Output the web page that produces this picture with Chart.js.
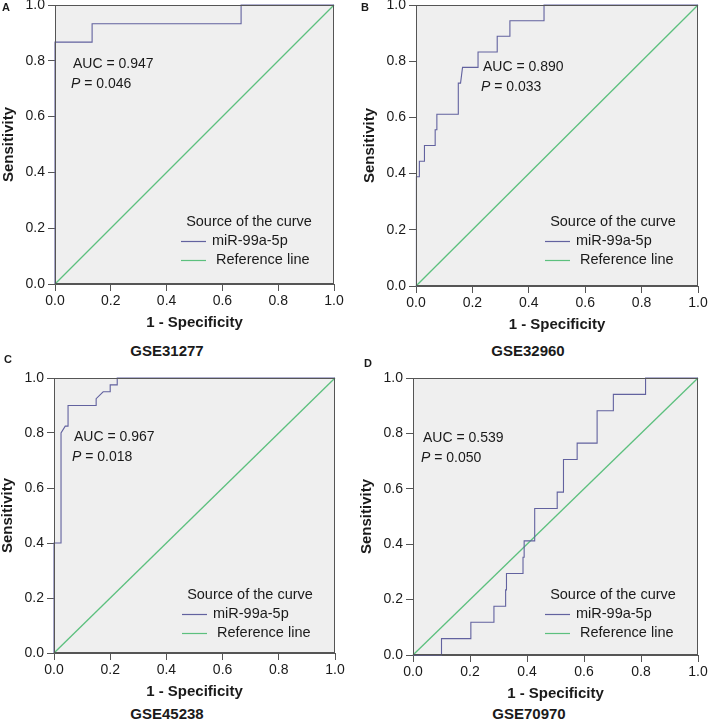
<!DOCTYPE html>
<html><head><meta charset="utf-8">
<script src="https://cdn.jsdelivr.net/npm/chart.js@4.4.0/dist/chart.umd.min.js"></script>
<style>
html,body{margin:0;padding:0;background:#fff;width:709px;height:725px;overflow:hidden;position:relative;font-family:'Liberation Sans',Arial,sans-serif}
canvas{position:absolute}
.lbl{position:absolute;font-weight:bold;color:#1a1a1a;white-space:nowrap;transform:translate(-50%,-50%);line-height:1}
</style></head><body>
<script>
// ---------- data ----------
const tickLabels = ['0.0','0.2','0.4','0.6','0.8','1.0'];
const seriesNames = ['miR-99a-5p','Reference line'];
const legendTitle = 'Source of the curve';
const xTitle = '1 - Specificity';
const yTitle = 'Sensitivity';
const panelLetters = ['A','B','C','D'];
const cohortNames = ['GSE31277','GSE32960','GSE45238','GSE70970'];
const aucValues = ['0.947','0.890','0.967','0.539'];
const pValues = ['0.046','0.033','0.018','0.050'];
const refFpr = [0, 1];
const refTpr = [0, 1];

const fprA = [0, 0, 0.133, 0.133, 0.667, 0.667, 1];
const tprA = [0, 0.867, 0.867, 0.933, 0.933, 1, 1];

const fprB = [0, 0, 0.003, 0.012, 0.012, 0.030, 0.030, 0.068, 0.068, 0.074, 0.074, 0.150, 0.150, 0.158, 0.165, 0.220, 0.220, 0.288, 0.288, 0.333, 0.333, 0.454, 0.454, 1];
const tprB = [0, 0.222, 0.389, 0.389, 0.444, 0.444, 0.500, 0.500, 0.556, 0.556, 0.611, 0.611, 0.722, 0.722, 0.778, 0.778, 0.833, 0.833, 0.889, 0.889, 0.944, 0.944, 1, 1];

const fprC = [0, 0, 0.025, 0.025, 0.040, 0.050, 0.050, 0.150, 0.150, 0.175, 0.200, 0.200, 0.225, 0.225, 1];
const tprC = [0, 0.400, 0.400, 0.800, 0.825, 0.825, 0.900, 0.900, 0.925, 0.950, 0.950, 0.975, 0.975, 1, 1];

const fprD = [0, 0.100, 0.100, 0.203, 0.203, 0.284, 0.284, 0.325, 0.325, 0.328, 0.328, 0.386, 0.386, 0.390, 0.390, 0.427, 0.427, 0.506, 0.506, 0.528, 0.528, 0.576, 0.576, 0.646, 0.646, 0.703, 0.703, 0.816, 0.816, 1];
const tprD = [0, 0, 0.059, 0.059, 0.118, 0.118, 0.176, 0.176, 0.235, 0.235, 0.294, 0.294, 0.353, 0.353, 0.412, 0.412, 0.529, 0.529, 0.588, 0.588, 0.706, 0.706, 0.765, 0.765, 0.882, 0.882, 0.941, 0.941, 1, 1];

const curveFpr = [fprA, fprB, fprC, fprD];
const curveTpr = [tprA, tprB, tprC, tprD];

// ---------- layout / style ----------
const FONT = "'Liberation Sans', Arial, sans-serif";
const TEXT = '#1a1a1a';
const AXIS = '#555555';
const CURVE = '#62629f';
const REFC = '#5cc07e';
const panels = [
  {L:55,  T:5,   R:334, B:284, letter:[6,7],    sub:[167,350], ax:18, ay:59},
  {L:416, T:5,   R:698, B:286, letter:[365,7],  sub:[528,350], ax:67, ay:62},
  {L:54,  T:378, R:335, B:653, letter:[8,359],  sub:[167,713], ax:20, ay:59},
  {L:413, T:378, R:698, B:655, letter:[368,363],sub:[529,713], ax:10, ay:60}
];

const decoPlugin = {
  id: 'deco',
  beforeDraw(chart) {
    const {ctx, chartArea: a} = chart;
    ctx.save();
    ctx.fillStyle = '#efefef';
    ctx.fillRect(a.left, a.top, a.right - a.left, a.bottom - a.top);
    ctx.restore();
  },
  afterDraw(chart, args, o) {
    const {ctx, chartArea: a} = chart;
    ctx.save();
    ctx.strokeStyle = AXIS; ctx.lineWidth = 1;
    ctx.strokeRect(Math.round(a.left) + 0.5, Math.round(a.top) + 0.5, Math.round(a.right - a.left) - 1, Math.round(a.bottom - a.top) - 1);
    // annotation
    ctx.fillStyle = TEXT; ctx.textBaseline = 'middle'; ctx.textAlign = 'left';
    ctx.font = '14px ' + FONT;
    ctx.fillText('AUC = ' + o.auc, a.left + o.ax, a.top + o.ay);
    const px = a.left + o.ax - 2, py = a.top + o.ay + 20;
    ctx.font = 'italic 14px ' + FONT;
    ctx.fillText('P', px, py);
    const pw = ctx.measureText('P').width;
    ctx.font = '14px ' + FONT;
    ctx.fillText(' = ' + o.p, px + pw, py);
    // legend
    ctx.font = '14.5px ' + FONT;
    ctx.textAlign = 'center';
    ctx.fillText(legendTitle, a.right - 85, a.top + 217);
    ctx.textAlign = 'left';
    const ds = chart.data.datasets;
    [236, 255].forEach((dy, i) => {
      const y = Math.round(a.top + dy) + 0.5;
      ctx.strokeStyle = ds[i].borderColor; ctx.lineWidth = 1.2;
      ctx.beginPath(); ctx.moveTo(a.right - 153, y); ctx.lineTo(a.right - 128, y); ctx.stroke();
      ctx.fillText((i === 1 ? ' ' : '') + ds[i].label, a.right - 122, a.top + dy);
    });
    ctx.restore();
  }
};

function axisOpts(isX) {
  return {
    type: 'linear', min: 0, max: 1,
    ticks: {
      stepSize: 0.2, padding: isX ? 2 : 3, color: TEXT,
      font: {family: FONT, size: 14},
      callback: (v) => tickLabels[Math.round(v * 5)]
    },
    grid: {drawOnChartArea: false, drawTicks: true, tickLength: 7, color: AXIS, lineWidth: 1},
    border: {display: true, color: AXIS, width: 1},
    title: {display: true, text: isX ? xTitle : yTitle, color: TEXT, padding: 0,
            font: {family: FONT, size: 15, weight: 'bold'}},
    afterFit: isX
      ? (s) => { s.height = 48; s.paddingLeft = 0; s.paddingRight = 0; }
      : (s) => { s.width = 55; s.paddingTop = 0; s.paddingBottom = 0; }
  };
}

panels.forEach((p, i) => {
  const padL = 55, padT = 15, padR = 11, axH = 48;
  const cw = (p.R - p.L) + padL + padR;
  const ch = (p.B - p.T) + padT + axH;
  const cv = document.createElement('canvas');
  cv.width = cw; cv.height = ch;
  cv.style.left = (p.L - padL) + 'px'; cv.style.top = (p.T - padT) + 'px';
  cv.style.width = cw + 'px'; cv.style.height = ch + 'px';
  document.body.appendChild(cv);

  const curve = curveFpr[i].map((x, k) => ({x: x, y: curveTpr[i][k]}));
  const ref = refFpr.map((x, k) => ({x: x, y: refTpr[k]}));

  new Chart(cv, {
    type: 'scatter',
    data: {datasets: [
      {label: seriesNames[0], data: curve, borderColor: CURVE, borderWidth: 1.1, showLine: true, pointRadius: 0, tension: 0, clip: false, order: 1},
      {label: seriesNames[1], data: ref, borderColor: REFC, borderWidth: 1.3, showLine: true, pointRadius: 0, tension: 0, clip: false, order: 2}
    ]},
    options: {
      responsive: false, animation: false, devicePixelRatio: 1,
      layout: {padding: {left: 0, top: padT, right: padR, bottom: 0}},
      scales: {x: axisOpts(true), y: axisOpts(false)},
      plugins: {legend: {display: false}, tooltip: {enabled: false},
                deco: {auc: aucValues[i], p: pValues[i], ax: p.ax, ay: p.ay}}
    },
    plugins: [decoPlugin]
  });

  const lt = document.createElement('div');
  lt.className = 'lbl'; lt.style.fontSize = '11px';
  lt.style.left = p.letter[0] + 'px'; lt.style.top = p.letter[1] + 'px';
  lt.textContent = panelLetters[i];
  document.body.appendChild(lt);

  const sb = document.createElement('div');
  sb.className = 'lbl'; sb.style.fontSize = '15px';
  sb.style.left = p.sub[0] + 'px'; sb.style.top = p.sub[1] + 'px';
  sb.textContent = cohortNames[i];
  document.body.appendChild(sb);
});
</script>
</body></html>
